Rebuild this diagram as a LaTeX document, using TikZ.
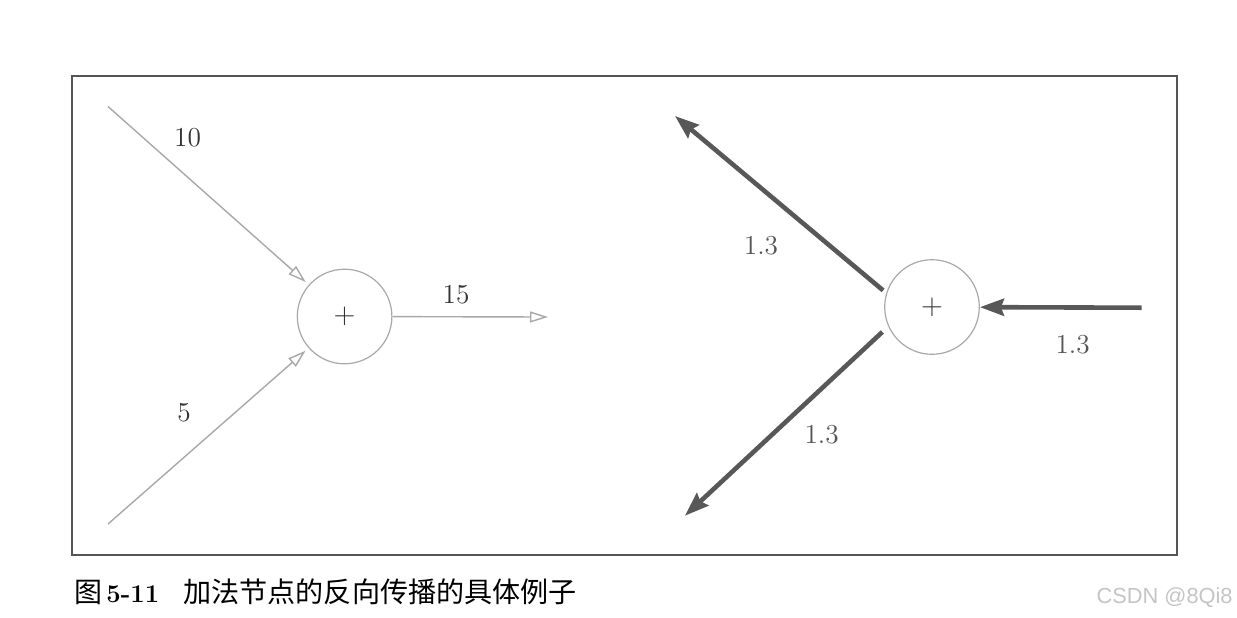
\documentclass[tikz,border=0pt]{standalone}
\usepackage{fontspec}
\newfontfamily\cjk{Noto Sans CJK SC}
\newfontfamily\wmfont{Liberation Sans}
\usetikzlibrary{arrows.meta}
\definecolor{lightline}{HTML}{A8A8A8}
\definecolor{darkline}{HTML}{585858}
\definecolor{framecol}{HTML}{555555}
\definecolor{labeldark}{HTML}{333333}
\definecolor{labelgray}{HTML}{555555}
\definecolor{wmcol}{HTML}{C4C4C4}
\tikzset{
  addnode/.style={circle, draw=lightline, line width=0.6pt, minimum size=47.3pt, inner sep=0pt,
                  text=labeldark, font=\fontsize{14}{16}\selectfont},
  fwdarrow/.style={draw=lightline, line width=0.7pt, -{Triangle[open,length=9pt,width=5.5pt]}},
  bwdarrow/.style={draw=darkline, line width=2.3pt, -{Stealth[length=12pt,width=8.5pt,inset=1.5pt]}},
  numlabel/.style={font=\fontsize{13.7}{16}\selectfont, inner sep=0pt},
}
\begin{document}
\begin{tikzpicture}[x=0.5pt, y=-0.5pt]
\useasboundingbox (0,0) rectangle (1237,617);
% frame
\draw[framecol, line width=0.65pt] (72,76) rectangle (1177,555);

% left: forward pass
\node[addnode] (L) at (344.6,316.5) {$+$};
\coordinate (a1) at (108,106.5);
\coordinate (a2) at (108,524);
\coordinate (o1) at (548,317);
\draw[fwdarrow, shorten >=2pt] (a1) -- (L);
\draw[fwdarrow, shorten >=2pt] (a2) -- (L);
\draw[fwdarrow] (L) -- (o1);
\node[numlabel, text=labeldark] (l10) at (187.5,138) {10};
\node[numlabel, text=labeldark] (l5) at (184,413) {5};
\node[numlabel, text=labeldark] (l15) at (456,295) {15};

% right: backward pass
\node[addnode] (R) at (932,307) {$+$};
\coordinate (r1) at (1141.7,307.7);
\coordinate (u1) at (675,116);
\coordinate (d1) at (685,515.7);
\draw[bwdarrow] (r1) -- (R);
\draw[bwdarrow, shorten <=2pt] (R.163) -- (u1);
\draw[bwdarrow, shorten <=4pt] (R.204) -- (d1);
\node[numlabel, text=labelgray] (lu) at (761,245.7) {1.3};
\node[numlabel, text=labelgray] (lr) at (1072.7,345) {1.3};
\node[numlabel, text=labelgray] (ld) at (821.7,435) {1.3};

% caption
\node[anchor=west, inner sep=0pt, font=\fontsize{14}{17}\selectfont] (cap1) at (74,592)
  {{\cjk 图}\hspace{2pt}{\fontsize{12.8}{16}\selectfont\bfseries 5-11}};
\node[anchor=west, inner sep=0pt, font=\fontsize{14.05}{17}\selectfont] (cap2) at (183,592)
  {\cjk 加法节点的反向传播的具体例子};
% watermark
\node[anchor=east, inner sep=0pt, text=wmcol, font=\wmfont\fontsize{10.9}{12}\selectfont] (wm) at (1233,598)
  {CSDN @8Qi8};
\end{tikzpicture}
\end{document}
